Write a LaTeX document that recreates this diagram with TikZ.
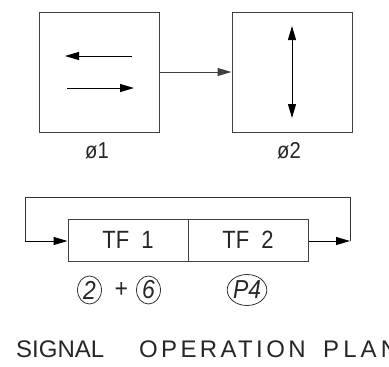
\documentclass[tikz,border=0pt]{standalone}
\usepackage{fontspec}
\usepackage{graphicx}
\setmainfont{Liberation Sans}
\usetikzlibrary{arrows.meta,shapes.geometric}
\newcommand{\narrowtxt}[1]{\scalebox{0.88}[1]{#1}}
\begin{document}
\begin{tikzpicture}[x=1pt,y=-1pt,
  box/.style={draw=black!75, line width=1pt, inner sep=0pt},
  arr/.style={line width=1pt, -{Triangle[length=14pt,width=8pt]}},
  dbl/.style={line width=1pt, {Triangle[length=14pt,width=8pt]}-{Triangle[length=14pt,width=8pt]}},
  conn/.style={line width=1pt, draw=black!80},
  lbl/.style={inner sep=0pt, text=black!85, font=\fontsize{23}{23}\selectfont},
  tfbox/.style={box, minimum width=120pt, minimum height=42pt, text=black!85, font=\fontsize{25}{25}\selectfont},
  circ/.style={draw=black!80, line width=0.8pt, ellipse, inner sep=0pt, text=black!85, font=\fontsize{26}{26}\selectfont\itshape},
  ttl/.style={anchor=base west, inner sep=0pt, text=black!85, font=\fontsize{24}{24}\selectfont}]
\useasboundingbox (0,0) rectangle (389,367);
% phase boxes
\node[box, minimum width=120pt, minimum height=120pt] (p1) at (99.5,72) {};
\node[box, minimum width=120pt, minimum height=120pt] (p2) at (292,72) {};
\coordinate (a1s) at (132,56); \coordinate (a1e) at (65,56);
\coordinate (a2s) at (67,88);  \coordinate (a2e) at (134,88);
\coordinate (b1) at (292,26);  \coordinate (b2) at (292,118);
\draw[arr] (a1s) -- (a1e);
\draw[arr] (a2s) -- (a2e);
\draw[dbl] (b1) -- (b2);
\draw[arr, draw=black!75] (p1.east) -- (p2.west);
\node[lbl] (l1) at (97,151) {\narrowtxt{ø1}};
\node[lbl] (l2) at (289,151) {\narrowtxt{ø2}};
% timing boxes
\node[tfbox] (tf1) at (128,240) {\narrowtxt{TF\ \ 1}};
\node[tfbox] (tf2) at (248,240) {\narrowtxt{TF\ \ 2}};
\coordinate (lt) at (25,197); \coordinate (rt) at (350,197);
\coordinate (lb) at (25,241); \coordinate (rb) at (350,241);
\draw[conn] (rt) -- (lt) -- (lb);
\draw[arr] (lb) -- (lb -| tf1.west);
\draw[arr] (rb -| tf2.east) -- (rb);
\draw[conn] (rb) -- (rt);
% circled labels
\node[circ, minimum width=24pt, minimum height=28pt] (c2) at (89.5,290) {\narrowtxt{2}};
\node[lbl, font=\fontsize{26}{26}\selectfont\itshape] (plus) at (121,290) {\narrowtxt{+}};
\node[circ, minimum width=24pt, minimum height=28pt] (c6) at (148.5,290) {\narrowtxt{6}};
\node[circ, minimum width=33pt, minimum height=31pt] (cp4) at (247,290) {\narrowtxt{P4}};
% title
\node[ttl] (w1) at (16,357) {SIGNAL};
\node[ttl] (w2) at (139,357) {\addfontfeature{LetterSpace=14}OPERATION};
\node[ttl] (w3) at (323,357) {\addfontfeature{LetterSpace=17}PLAN};
\end{tikzpicture}
\end{document}
